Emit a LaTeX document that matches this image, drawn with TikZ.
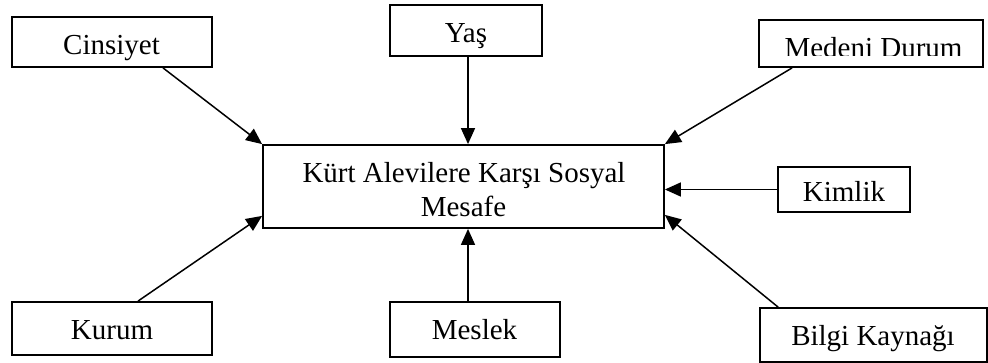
\documentclass[tikz,border=0pt]{standalone}
\usepackage{fontspec}
\setmainfont{Liberation Serif}
\usetikzlibrary{arrows.meta,calc}
\begin{document}
\begin{tikzpicture}[x=1pt,y=-1pt,
  box/.style={draw=black,line width=1.8pt,rectangle,inner sep=0pt,fill=white},
  lbl/.style={anchor=base,inner sep=0pt,font=\fontsize{29}{33}\selectfont},
  conn/.style={line width=1.5pt,-{Triangle[length=16pt,width=14pt]}}]
\useasboundingbox (0,0) rectangle (988,363);
% boxes
\node[box,minimum width=200pt,minimum height=50pt] (cin) at (112,42) {};
\node[box,minimum width=152pt,minimum height=51pt] (yas) at (466,30.5) {};
\node[box,minimum width=224pt,minimum height=47pt] (med) at (871,43.5) {};
\node[box,minimum width=401pt,minimum height=83pt] (ctr) at (463.5,186.5) {};
\node[box,minimum width=132pt,minimum height=45pt] (kim) at (844,189.5) {};
\node[box,minimum width=200pt,minimum height=53pt] (kur) at (112,328.5) {};
\node[box,minimum width=170pt,minimum height=55pt] (mes) at (475,329.5) {};
\node[box,minimum width=227pt,minimum height=54pt] (bil) at (873.5,335) {};
% texts
\node[lbl] (tcin) at (111.5,55) {Cinsiyet};
\node[lbl] (tyas) at (466,43) {Yaş};
\begin{scope}
\clip (760,21) rectangle (982,56);
\node[lbl] (tmed) at (873.5,57.5) {Medeni Durum};
\end{scope}
\node[lbl] (tctr1) at (464,183) {Kürt Alevilere Karşı Sosyal};
\node[lbl] (tctr2) at (463.5,217) {Mesafe};
\node[lbl] (tkim) at (844,202) {Kimlik};
\node[lbl] (tkur) at (112,340) {Kurum};
\node[lbl] (tmes) at (474.5,340) {Meslek};
\node[lbl] (tbil) at (873,345) {Bilgi Kaynağı};
% connectors
\draw[conn] ([xshift=51pt]cin.south) -- (ctr.north west);
\draw[conn] ([xshift=2pt]yas.south) -- ([xshift=2pt]yas.south |- ctr.north);
\draw[conn] ([xshift=34pt]med.south west) -- (ctr.north east);
\draw[conn] (kim.west) -- (kim.west -| ctr.east);
\draw[conn] ([xshift=26pt]kur.north) -- ([yshift=13pt]ctr.south west);
\draw[conn] ([xshift=-7pt]mes.north) -- ([xshift=-7pt]mes.north |- ctr.south);
\draw[conn] ([xshift=19pt]bil.north west) -- ([yshift=14pt]ctr.south east);
\end{tikzpicture}
\end{document}
